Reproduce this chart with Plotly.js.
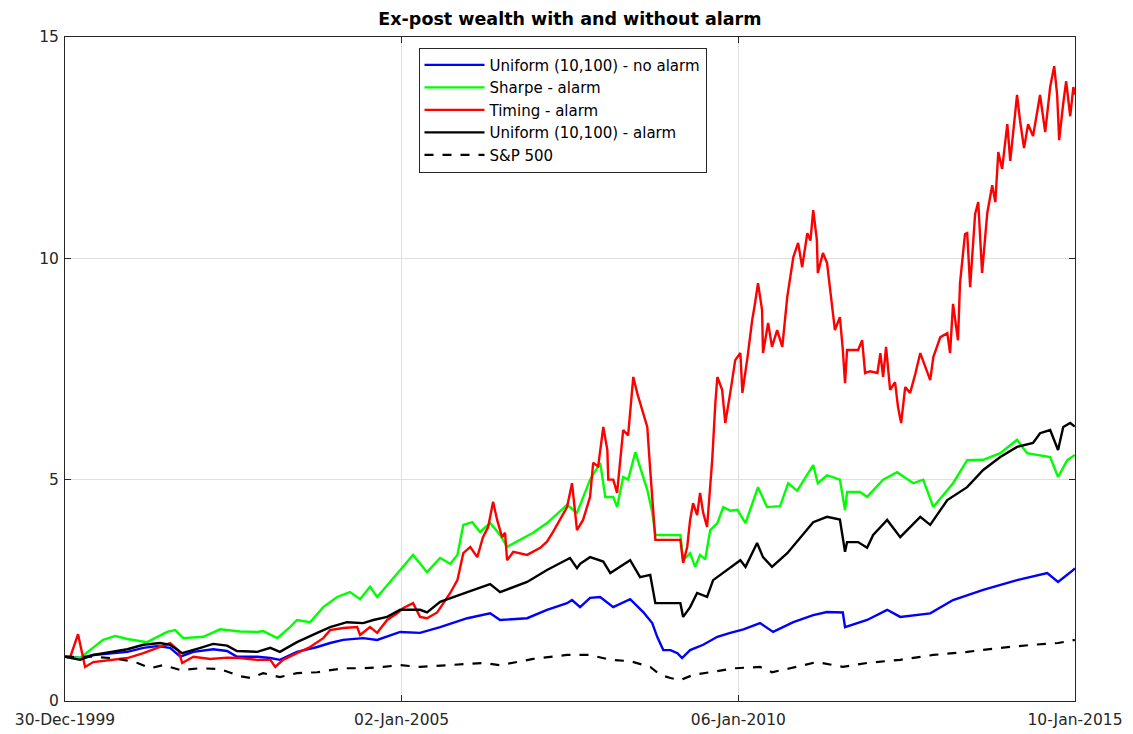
<!DOCTYPE html>
<html>
<head>
<meta charset="utf-8">
<script src="https://cdn.plot.ly/plotly-3.0.1.min.js"></script>
<style>
  html, body { margin: 0; padding: 0; background: #ffffff; }
  #chart { width: 1133px; height: 734px; }
</style>
</head>
<body>
<div id="chart"></div>
<script>
// ---- Data ----
const tickDates = ['1999-12-30', '2005-01-02', '2010-01-06', '2015-01-10'];
const tickLabels = ['30-Dec-1999', '02-Jan-2005', '06-Jan-2010', '10-Jan-2015'];
const seriesNames = ['Uniform (10,100) - no alarm', 'Sharpe - alarm', 'Timing - alarm', 'Uniform (10,100) - alarm', 'S&P 500'];

const blueDates = ['1999-12-30','2000-03-21','2000-06-01','2000-09-02','2000-12-03','2001-02-28','2001-05-14','2001-07-23','2001-09-17','2001-11-27',
  '2002-03-14','2002-05-29','2002-07-22','2002-11-09','2003-01-19','2003-03-12','2003-06-13','2003-10-01','2003-12-10','2004-02-19',
  '2004-06-07','2004-08-22','2004-11-02','2004-12-25','2005-04-12','2005-07-30','2005-12-25','2006-04-28','2006-06-21','2006-11-15',
  '2007-03-03','2007-06-20','2007-07-17','2007-08-30','2007-10-23','2007-12-17','2008-02-26','2008-05-28','2008-08-07','2008-09-25',
  '2008-10-22','2008-11-24','2009-01-02','2009-02-09','2009-03-06','2009-04-19','2009-06-29','2009-09-14','2009-11-23','2010-02-03',
  '2010-05-04','2010-07-14','2010-11-01','2011-02-17','2011-05-03','2011-07-28','2011-08-09','2011-12-07','2012-03-25','2012-06-04',
  '2012-11-14','2013-03-18','2013-08-29','2014-03-01','2014-08-12','2014-10-10','2015-01-01','2015-01-09'];
const blueWealth = [1.0,0.97,1.04,1.08,1.11,1.2,1.24,1.2,1.0,1.11,
  1.17,1.13,1.0,1.0,0.97,0.93,1.11,1.22,1.31,1.38,
  1.42,1.38,1.49,1.56,1.54,1.67,1.87,1.98,1.83,1.87,
  2.06,2.21,2.28,2.12,2.33,2.35,2.12,2.3,2.01,1.76,
  1.45,1.15,1.15,1.08,0.97,1.15,1.27,1.45,1.54,1.62,
  1.76,1.56,1.78,1.94,2.01,2.0,1.67,1.83,2.06,1.9,
  1.98,2.28,2.51,2.73,2.89,2.69,2.96,3.0];

const greenDates = ['1999-12-30','2000-03-21','2000-05-14','2000-07-24','2000-09-28','2000-12-03','2001-03-20','2001-07-07','2001-08-20','2001-10-03',
  '2002-01-20','2002-04-21','2002-08-08','2002-11-09','2002-12-11','2003-02-26','2003-05-06','2003-06-13','2003-08-23','2003-11-03',
  '2004-01-17','2004-03-27','2004-05-21','2004-07-14','2004-08-22','2004-11-02','2004-12-25','2005-03-05','2005-05-20','2005-07-30',
  '2005-09-23','2005-11-01','2005-12-03','2006-01-21','2006-03-04','2006-04-28','2006-06-21','2006-07-29','2006-10-08','2006-12-17',
  '2007-03-03','2007-05-12','2007-06-20','2007-08-13','2007-10-23','2007-12-17','2008-01-14','2008-02-26','2008-03-18','2008-04-20',
  '2008-05-17','2008-06-25','2008-08-02','2008-08-29','2008-09-25','2008-10-12','2009-02-25','2009-03-12','2009-04-19','2009-05-16',
  '2009-06-12','2009-07-10','2009-08-06','2009-09-14','2009-10-16','2009-11-23','2010-01-01','2010-02-14','2010-04-23','2010-06-11',
  '2010-08-21','2010-10-04','2010-11-22','2011-02-17','2011-03-14','2011-05-03','2011-07-12','2011-08-09','2011-08-20','2011-10-30',
  '2011-12-07','2012-03-03','2012-05-18','2012-08-14','2012-10-07','2012-12-01','2013-03-18','2013-06-03','2013-08-29','2013-11-30',
  '2014-03-01','2014-04-24','2014-08-28','2014-10-10','2014-11-29','2015-01-09'];
const greenWealth = [1.0,0.97,1.15,1.38,1.47,1.4,1.33,1.56,1.6,1.42,
  1.45,1.62,1.57,1.56,1.58,1.42,1.67,1.83,1.78,2.12,
  2.35,2.46,2.3,2.58,2.35,2.69,2.96,3.3,2.91,3.23,
  3.1,3.3,3.98,4.04,3.82,4.02,3.75,3.48,3.64,3.8,
  4.02,4.27,4.43,4.25,5.0,5.38,4.61,4.61,4.38,5.06,
  5.0,5.62,5.15,4.77,4.27,3.75,3.75,3.18,3.34,3.03,
  3.3,3.2,3.86,4.02,4.38,4.3,4.32,4.02,4.83,4.38,
  4.4,4.92,4.75,5.33,4.92,5.1,5.0,4.31,4.72,4.72,
  4.61,5.0,5.17,4.92,5.0,4.38,4.92,5.44,5.45,5.6,
  5.9,5.6,5.51,5.06,5.44,5.56];

const redDates = ['1999-12-30','2000-01-28','2000-03-10','2000-04-17','2000-06-01','2000-09-02','2000-12-03','2001-02-28','2001-05-30','2001-07-23',
  '2001-09-06','2001-09-27','2001-11-27','2002-02-27','2002-05-29','2002-08-08','2002-11-09','2003-01-19','2003-02-15','2003-03-29',
  '2003-06-13','2003-08-23','2003-11-03','2003-12-10','2004-02-19','2004-05-05','2004-05-21','2004-07-14','2004-08-22','2004-10-15',
  '2004-12-09','2005-01-11','2005-03-05','2005-04-12','2005-05-20','2005-07-14','2005-09-23','2005-11-01','2005-12-03','2006-01-10',
  '2006-02-17','2006-03-20','2006-04-17','2006-05-14','2006-06-05','2006-07-02','2006-07-18','2006-07-29','2006-09-01','2006-11-15',
  '2007-01-25','2007-03-03','2007-04-05','2007-05-12','2007-06-20','2007-07-17','2007-08-13','2007-09-15','2007-10-23','2007-11-09',
  '2007-12-06','2008-01-03','2008-01-25','2008-01-30','2008-02-26','2008-03-18','2008-04-04','2008-04-20','2008-05-17','2008-06-14',
  '2008-07-05','2008-08-02','2008-08-29','2008-09-14','2008-10-01','2008-10-12','2009-02-25','2009-03-12','2009-04-03','2009-04-19',
  '2009-05-05','2009-05-27','2009-06-12','2009-06-29','2009-07-20','2009-08-17','2009-09-03','2009-09-14','2009-10-10','2009-10-27',
  '2009-11-23','2009-12-20','2010-01-17','2010-01-28','2010-02-25','2010-03-22','2010-04-07','2010-04-23','2010-05-15','2010-05-20',
  '2010-06-17','2010-07-08','2010-08-05','2010-09-02','2010-09-29','2010-11-01','2010-11-27','2010-12-19','2011-01-16','2011-02-02',
  '2011-02-17','2011-03-09','2011-03-14','2011-04-11','2011-05-03','2011-05-19','2011-06-15','2011-07-12','2011-07-28','2011-08-09',
  '2011-08-20','2011-10-19','2011-11-10','2011-11-26','2011-12-23','2012-02-01','2012-02-17','2012-03-03','2012-03-19','2012-04-10',
  '2012-05-07','2012-05-23','2012-06-09','2012-07-01','2012-07-28','2012-08-25','2012-09-21','2012-11-14','2012-12-01','2013-01-08',
  '2013-02-15','2013-03-02','2013-03-18','2013-04-14','2013-04-25','2013-05-22','2013-06-03','2013-06-19','2013-07-16','2013-08-02',
  '2013-08-23','2013-09-20','2013-10-17','2013-11-03','2013-11-19','2013-12-10','2014-01-07','2014-01-23','2014-03-01','2014-03-17',
  '2014-04-08','2014-04-30','2014-05-27','2014-07-04','2014-08-01','2014-08-28','2014-09-19','2014-10-05','2014-10-16','2014-11-07',
  '2014-11-23','2014-12-15','2015-01-01','2015-01-09'];
const redWealth = [1.0,1.0,1.51,0.77,0.88,0.93,0.97,1.08,1.22,1.31,
  1.15,0.86,1.0,0.95,0.98,0.97,0.93,0.93,0.77,0.93,
  1.08,1.22,1.42,1.6,1.65,1.67,1.49,1.67,1.54,1.83,
  1.98,2.1,2.21,1.9,1.87,2.0,2.44,2.73,3.34,3.48,
  3.25,3.7,3.93,4.5,4.09,3.7,3.8,3.18,3.37,3.3,
  3.46,3.6,3.82,4.09,4.38,4.92,3.86,4.09,4.61,5.38,
  5.3,6.19,5.67,5.0,5.0,4.7,5.38,6.12,6.0,7.32,
  6.96,6.57,6.19,5.22,4.25,3.64,3.64,3.12,3.48,4.09,
  4.47,4.2,4.7,4.25,3.93,5.44,6.73,7.32,7.03,6.28,
  6.96,7.7,7.86,6.96,7.77,8.6,8.99,9.44,8.83,7.86,
  8.54,8.0,8.38,8.0,9.13,10.03,10.35,9.8,10.57,10.4,
  11.09,10.41,9.67,10.12,9.9,9.28,8.38,8.67,7.93,7.18,
  7.93,7.93,8.15,7.41,7.45,7.41,7.86,7.32,8.0,7.03,
  7.2,6.64,6.28,7.09,6.96,7.39,7.86,7.25,7.77,8.22,
  8.31,7.86,8.97,8.15,9.44,10.55,10.57,9.35,11.0,11.27,
  9.67,11.02,11.65,11.27,12.4,12.02,13.03,12.2,13.69,13.12,
  12.49,13.03,12.76,13.69,12.85,13.87,14.34,13.69,12.67,13.5,
  14.0,13.21,13.87,13.7];

const blackDates = ['1999-12-30','2000-03-21','2000-06-01','2000-09-02','2000-12-03','2001-02-28','2001-05-30','2001-07-23','2001-09-27','2002-01-04',
  '2002-03-14','2002-05-29','2002-07-22','2002-11-09','2003-01-19','2003-03-12','2003-06-13','2003-10-01','2003-12-10','2004-03-11',
  '2004-06-07','2004-08-01','2004-10-15','2004-12-25','2005-04-12','2005-05-20','2005-07-30','2005-12-25','2006-04-28','2006-06-21',
  '2006-11-15','2007-03-03','2007-05-12','2007-07-06','2007-08-13','2007-08-30','2007-10-23','2008-01-03','2008-02-10','2008-05-28',
  '2008-07-21','2008-09-14','2008-10-12','2009-02-25','2009-03-12','2009-04-19','2009-05-27','2009-07-20','2009-08-22','2009-11-07',
  '2010-01-17','2010-02-14','2010-04-18','2010-05-20','2010-07-08','2010-09-29','2010-12-08','2011-02-17','2011-05-03','2011-07-12',
  '2011-08-09','2011-08-20','2011-10-19','2011-12-07','2012-01-09','2012-03-25','2012-06-04','2012-09-21','2012-11-14','2013-02-15',
  '2013-06-03','2013-08-29','2013-11-30','2014-03-01','2014-05-27','2014-07-04','2014-08-28','2014-10-10','2014-11-07','2014-12-15',
  '2015-01-09'];
const blackWealth = [1.0,0.93,1.04,1.11,1.17,1.27,1.31,1.27,1.08,1.2,
  1.29,1.25,1.13,1.11,1.2,1.11,1.33,1.54,1.67,1.78,
  1.76,1.83,1.9,2.06,2.06,2.0,2.24,2.46,2.64,2.46,
  2.69,2.96,3.12,3.23,3.0,3.1,3.25,3.15,2.89,3.18,
  2.8,2.85,2.21,2.21,1.9,2.12,2.44,2.35,2.73,2.96,
  3.18,3.03,3.57,3.25,3.03,3.34,3.7,4.04,4.16,4.1,
  3.37,3.59,3.59,3.46,3.75,4.09,3.7,4.16,3.98,4.54,
  4.83,5.22,5.51,5.74,5.83,6.05,6.12,5.67,6.19,6.28,
  6.2];

const spDates = ['1999-12-30','2000-06-01','2000-09-02','2000-11-11','2001-01-27','2001-04-06','2001-06-15','2001-09-17','2002-01-04','2002-04-21',
  '2002-08-08','2002-10-02','2002-12-11','2003-03-12','2003-06-13','2003-10-01','2004-02-19','2004-06-07','2004-09-24','2004-12-25',
  '2005-04-12','2005-09-23','2006-03-20','2006-06-21','2006-12-17','2007-06-20','2007-10-23','2008-02-10','2008-05-28','2008-09-14',
  '2008-11-08','2009-01-02','2009-02-25','2009-05-05','2009-08-06','2009-12-20','2010-05-04','2010-07-08','2010-10-15','2011-03-09',
  '2011-07-28','2011-12-07','2012-06-04','2012-12-01','2013-06-03','2013-11-30','2014-05-27','2014-10-10','2015-01-09'];
const spWealth = [1.0,1.0,0.97,0.93,0.86,0.74,0.81,0.7,0.74,0.72,
  0.56,0.52,0.63,0.54,0.63,0.65,0.74,0.74,0.77,0.81,
  0.77,0.81,0.86,0.81,0.95,1.04,1.04,0.93,0.9,0.77,
  0.59,0.52,0.47,0.59,0.65,0.74,0.77,0.65,0.74,0.88,
  0.77,0.86,0.93,1.04,1.11,1.2,1.27,1.31,1.38];

// ---- Traces ----
const FONT = 'DejaVu Sans, Liberation Sans, Arial, sans-serif';
const traces = [
  {x: blueDates,  y: blueWealth,  name: seriesNames[0], line: {color: '#0000ff', width: 2.4}},
  {x: greenDates, y: greenWealth, name: seriesNames[1], line: {color: '#00ff00', width: 2.4}},
  {x: redDates,   y: redWealth,   name: seriesNames[2], line: {color: '#ff0000', width: 2.4}},
  {x: blackDates, y: blackWealth, name: seriesNames[3], line: {color: '#000000', width: 2.4}},
  {x: spDates,    y: spWealth,    name: seriesNames[4], line: {color: '#000000', width: 2.2, dash: 'dash'}}
].map(t => Object.assign({type: 'scatter', mode: 'lines', hoverinfo: 'x+y+name'}, t));

const layout = {
  width: 1133, height: 734,
  paper_bgcolor: '#ffffff', plot_bgcolor: '#ffffff',
  margin: {l: 65, r: 58, t: 37, b: 33, pad: 0},
  font: {family: FONT, size: 15, color: '#262626'},
  title: {text: 'Ex-post wealth with and without alarm', x: 0.503, xanchor: 'center', y: 0.974, yanchor: 'middle',
          font: {family: FONT, size: 17.5, color: '#000000', weight: 'bold'}},
  showlegend: true,
  legend: {x: 0.35, y: 0.984, xanchor: 'left', yanchor: 'top', bgcolor: '#ffffff', bordercolor: '#262626', borderwidth: 1,
           font: {family: FONT, size: 15, color: '#000000'}, itemwidth: 60, tracegroupgap: 0},
  xaxis: {
    type: 'date', range: ['1999-12-30', '2015-01-10'],
    tickmode: 'array', tickvals: tickDates, ticktext: tickLabels,
    ticks: 'inside', ticklen: 6, tickcolor: '#262626', tickfont: {family: FONT, size: 15.5, color: '#262626'},
    ticklabelstandoff: 4,
    showgrid: true, gridcolor: '#dfdfdf', gridwidth: 1,
    showline: true, linecolor: '#262626', linewidth: 1, mirror: 'ticks', zeroline: false
  },
  yaxis: {
    range: [0, 15], tickmode: 'array', tickvals: [0, 5, 10, 15], ticktext: ['0', '5', '10', '15'],
    ticks: 'inside', ticklen: 6, tickcolor: '#262626', tickfont: {family: FONT, size: 15.5, color: '#262626'},
    ticklabelstandoff: 2,
    showgrid: true, gridcolor: '#dfdfdf', gridwidth: 1,
    showline: true, linecolor: '#262626', linewidth: 1, mirror: 'ticks', zeroline: false
  }
};

Plotly.newPlot('chart', traces, layout, {displayModeBar: false, staticPlot: true});
</script>
</body>
</html>
